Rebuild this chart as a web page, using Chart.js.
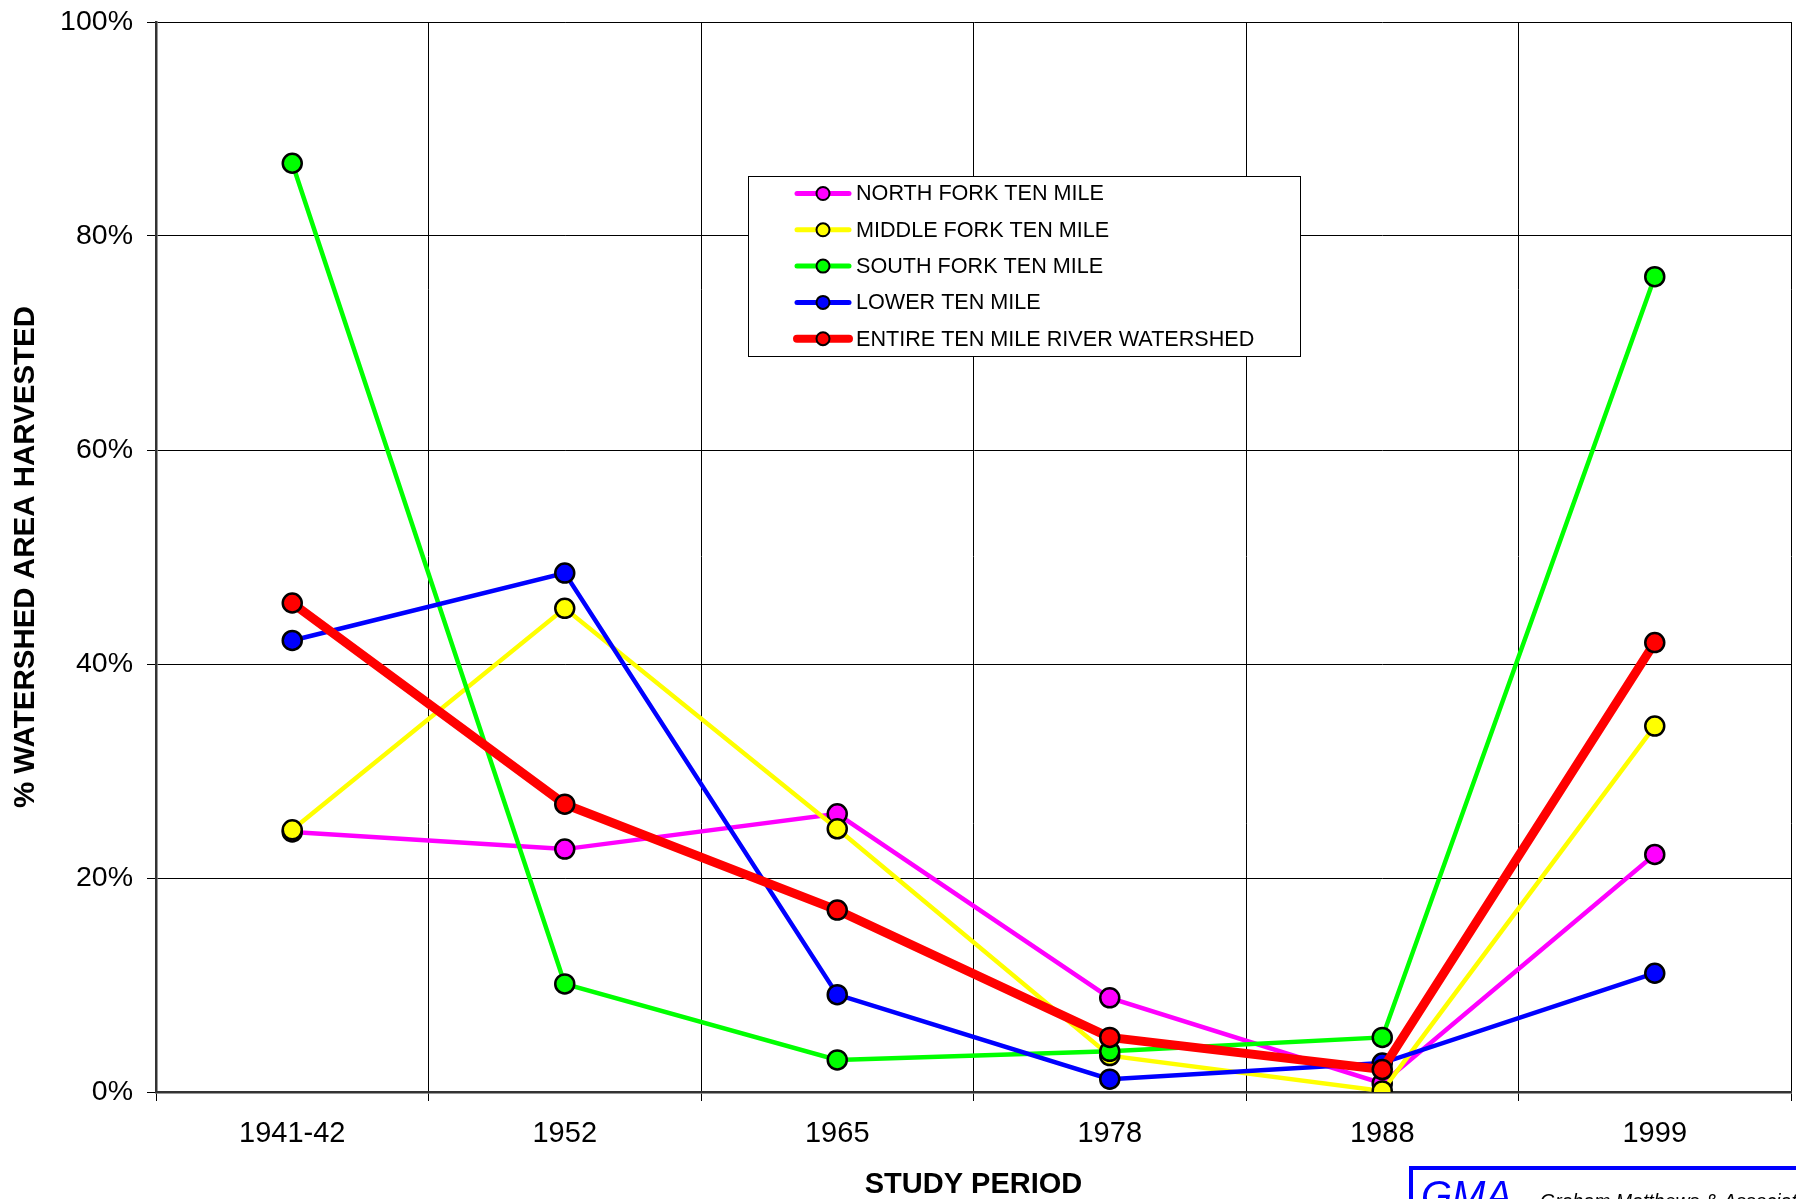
<!DOCTYPE html>
<html>
<head>
<meta charset="utf-8">
<title>% Watershed Area Harvested by Study Period</title>
<script src="https://cdn.jsdelivr.net/npm/chart.js@4.4.1/dist/chart.umd.min.js"></script>
<style>
    html, body { margin: 0; padding: 0; background: #fff; overflow: hidden; }
    #wrap { position: relative; width: 1796px; height: 1199px; }
</style>
</head>
<body>
<div id="wrap"><canvas id="harvestChart" width="1796" height="1199"></canvas></div>
<script>
// Study periods (x axis)
const periods = ['1941-42', '1952', '1965', '1978', '1988', '1999'];

// % of watershed area harvested, per sub-watershed
const northFork = [24.3, 22.7, 26.0, 8.8, 0.8, 22.2];
const middleFork = [24.5, 45.2, 24.6, 3.4, 0.1, 34.2];
const southFork = [86.8, 10.1, 3.0, 3.8, 5.1, 76.2];
const lowerTenMile = [42.2, 48.5, 9.1, 1.2, 2.7, 11.1];
const entireWatershed = [45.7, 26.9, 17.0, 5.1, 2.1, 42.0];

// y axis ticks
const yTicks = [0, 20, 40, 60, 80, 100];

const seriesNames = [
    'NORTH FORK TEN MILE',
    'MIDDLE FORK TEN MILE',
    'SOUTH FORK TEN MILE',
    'LOWER TEN MILE',
    'ENTIRE TEN MILE RIVER WATERSHED'
];

Chart.defaults.font.family = "'Liberation Sans', Arial, sans-serif";
Chart.defaults.color = '#000';

function lineSeries(label, data, color, width, order) {
    return {
        label: label,
        data: data,
        borderColor: color,
        backgroundColor: color,
        borderWidth: width,
        pointRadius: 9.5,
        pointHoverRadius: 9.5,
        pointBackgroundColor: color,
        pointBorderColor: '#000',
        pointBorderWidth: 2.5,
        tension: 0,
        fill: false,
        order: order
    };
}

// Legend box drawn inside the plot area, like the original
const boxLegend = {
    id: 'boxLegend',
    afterDraw(chart) {
        const ctx = chart.ctx;
        const x = 748, y = 176, w = 552, h = 180;
        ctx.save();
        ctx.fillStyle = '#fff';
        ctx.fillRect(x, y, w, h);
        ctx.strokeStyle = '#000';
        ctx.lineWidth = 1;
        ctx.strokeRect(x + 0.5, y + 0.5, w, h);
        ctx.font = "21.6px 'Liberation Sans', Arial, sans-serif";
        ctx.textBaseline = 'middle';
        chart.data.datasets.forEach(function(ds, i) {
            const cy = 193.5 + i * 36.3;
            ctx.strokeStyle = ds.borderColor;
            ctx.lineWidth = ds.borderWidth > 6 ? 8 : 5;
            ctx.lineCap = 'round';
            ctx.beginPath();
            ctx.moveTo(797, cy);
            ctx.lineTo(849, cy);
            ctx.stroke();
            ctx.beginPath();
            ctx.arc(823, cy, 6.5, 0, Math.PI * 2);
            ctx.fillStyle = ds.borderColor;
            ctx.fill();
            ctx.lineWidth = 2;
            ctx.strokeStyle = '#000';
            ctx.stroke();
            ctx.fillStyle = '#000';
            ctx.fillText(ds.label, 856, cy + 1);
        });

        // GMA logo box, clipped by the bottom-right corner
        ctx.strokeStyle = '#0000ff';
        ctx.lineWidth = 4;
        ctx.strokeRect(1411, 1168, 500, 100);
        ctx.fillStyle = '#0000ff';
        ctx.textBaseline = 'alphabetic';
        ctx.font = "italic 40px 'Liberation Sans', Arial, sans-serif";
        ctx.fillText('GMA', 1421, 1209);
        ctx.fillStyle = '#000';
        ctx.font = "italic 19.5px 'Liberation Sans', Arial, sans-serif";
        ctx.fillText('Graham Matthews & Associates', 1540, 1208);
        ctx.restore();
    }
};

const chart = new Chart(document.getElementById('harvestChart'), {
    type: 'line',
    data: {
        labels: periods,
        datasets: [
            lineSeries(seriesNames[0], northFork, '#ff00ff', 4.5, 5),
            lineSeries(seriesNames[1], middleFork, '#ffff00', 4.5, 4),
            lineSeries(seriesNames[2], southFork, '#00ff00', 4.5, 3),
            lineSeries(seriesNames[3], lowerTenMile, '#0000ff', 4.5, 2),
            lineSeries(seriesNames[4], entireWatershed, '#ff0000', 9, 1)
        ]
    },
    options: {
        responsive: false,
        animation: false,
        layout: {
            autoPadding: false,
            padding: { left: 0, top: 22, right: 5, bottom: 0 }
        },
        plugins: {
            legend: { display: false },
            tooltip: { enabled: false }
        },
        scales: {
            x: {
                offset: true,
                grid: {
                    offset: true,
                    color: '#000',
                    lineWidth: 1,
                    tickLength: 9
                },
                border: { color: '#333', width: 2.5 },
                ticks: {
                    font: { size: 29 },
                    padding: 16,
                    maxRotation: 0
                },
                title: {
                    display: true,
                    text: 'STUDY PERIOD',
                    font: { size: 29, weight: 'bold', lineHeight: 1 },
                    padding: { top: 0, bottom: 0 }
                },
                afterFit: function(scale) {
                    scale.height = 107;
                    scale.paddingLeft = 0;
                    scale.paddingRight = 0;
                }
            },
            y: {
                min: 0,
                max: 100,
                afterBuildTicks: function(scale) {
                    scale.ticks = yTicks.map(function(v) { return { value: v }; });
                },
                grid: {
                    color: '#000',
                    lineWidth: 1,
                    tickLength: 9
                },
                border: { color: '#333', width: 2.5 },
                ticks: {
                    font: { size: 28.5 },
                    padding: 14,
                    callback: function(v) { return v + '%'; }
                },
                title: {
                    display: true,
                    text: '% WATERSHED AREA HARVESTED',
                    font: { size: 29.5, weight: 'bold', lineHeight: 1 },
                    padding: { top: 11, bottom: 0 }
                },
                afterFit: function(scale) {
                    scale.width = 156;
                    scale.paddingTop = 0;
                    scale.paddingBottom = 0;
                }
            }
        }
    },
    plugins: [boxLegend]
});
</script>
</body>
</html>
